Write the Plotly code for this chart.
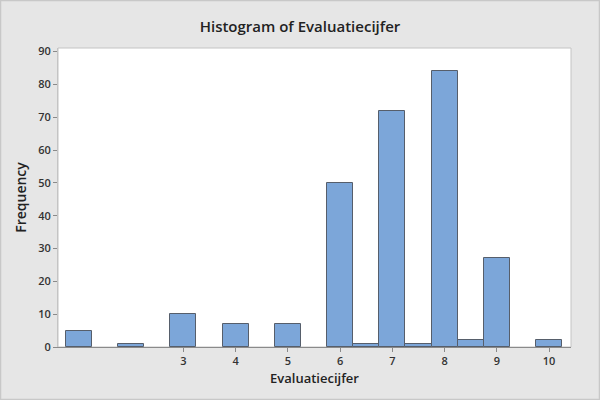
import plotly.graph_objects as go

# Bin centers (bin width 0.5) and frequencies
bin_centers = [1, 2, 3, 4, 5, 6, 6.5, 7, 7.5, 8, 8.5, 9, 10]
frequencies = [5, 1, 10, 7, 7, 50, 1, 72, 1, 84, 2, 27, 2]
bin_width = 0.5
x_ticks = [3, 4, 5, 6, 7, 8, 9, 10]
y_ticks = [0, 10, 20, 30, 40, 50, 60, 70, 80, 90]

FONT = "Open Sans"
TXT = "#333333"

fig = go.Figure()
fig.add_trace(go.Bar(
    x=bin_centers, y=frequencies, width=[bin_width] * len(bin_centers),
    marker=dict(color="#7ca6d9", line=dict(color="#565e6b", width=1)),
    hoverinfo="x+y",
))

L, R, T, B = 58, 29, 48, 53
W, H = 600, 400
pw, ph = W - L - R, H - T - B

fig.update_layout(
    width=W, height=H,
    margin=dict(l=L, r=R, t=T, b=B),
    paper_bgcolor="#e6e6e6", plot_bgcolor="#ffffff",
    showlegend=False, bargap=0,
    title=dict(text="Histogram of Evaluatiecijfer", x=0.5, xanchor="center",
               y=1 - 27 / H, yanchor="middle",
               font=dict(family=FONT, size=15, color="#222222", weight=600)),
    xaxis=dict(range=[0.6, 10.42], tickvals=x_ticks, ticktext=[str(v) for v in x_ticks],
               showgrid=False, zeroline=False, showline=True, linecolor="#8a8a8a", linewidth=1,
               ticks="outside", ticklen=4, tickcolor="#8a8a8a",
               tickfont=dict(family=FONT, size=11, color=TXT, weight=600),
               title=dict(text="Evaluatiecijfer", standoff=6,
                          font=dict(family=FONT, size=13, color="#222222", weight=600))),
    yaxis=dict(range=[0, 91.1], tickvals=y_ticks,
               showgrid=False, zeroline=False, showline=True, linecolor="#c4c4c4", linewidth=1,
               ticks="outside", ticklen=4, tickcolor="#8a8a8a",
               tickfont=dict(family=FONT, size=11, color=TXT, weight=600),
               title=dict(text="Frequency", standoff=8,
                          font=dict(family=FONT, size=14, color="#222222", weight=600))),
    shapes=[
        dict(type="rect", xref="paper", yref="paper", x0=0, x1=1, y0=0, y1=1,
             line=dict(color="#c4c4c4", width=1), layer="below"),
        dict(type="rect", xref="paper", yref="paper",
             x0=-(L - 0.5) / pw, x1=1 + (R - 0.5) / pw,
             y0=-(B - 0.5) / ph, y1=1 + (T - 0.5) / ph,
             line=dict(color="#c8c8c8", width=1.5)),
    ],
)

fig.write_html("out.html", config={"displayModeBar": False},
               post_script="document.body.style.margin='0';document.body.style.overflow='hidden';")
